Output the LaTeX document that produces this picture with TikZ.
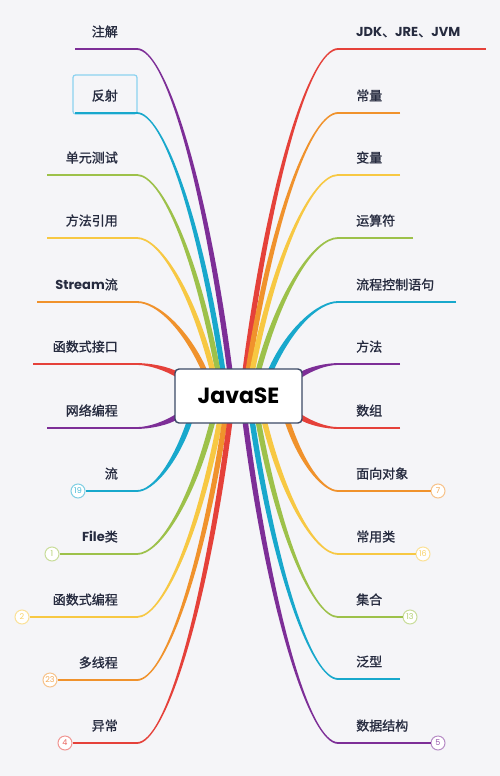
\documentclass[tikz,border=0pt]{standalone}
\usepackage{fontspec}
\setmainfont{Noto Sans CJK SC}[FakeBold=1.2]
\newfontfamily\latin{Poppins}
\usetikzlibrary{calc}

\definecolor{bgpaper}{RGB}{245,245,248}
\definecolor{inkdark}{RGB}{38,43,63}
\definecolor{hubedge}{RGB}{59,73,102}
\definecolor{pickblue}{RGB}{140,210,240}
\definecolor{brred}{RGB}{229,65,58}
\definecolor{brorange}{RGB}{240,146,44}
\definecolor{bryellow}{RGB}{247,200,67}
\definecolor{brgreen}{RGB}{157,193,74}
\definecolor{brcyan}{RGB}{24,168,204}
\definecolor{brpurple}{RGB}{125,46,151}

% tapered branch: thin at #2, thick at #3
\newcommand\limb[3]{%
  \fill[#1] let \p1=(#2), \p2=(#3),
    \p3=({\x1+0.3*(\x2-\x1)},\y1),
    \p4=({\x2-0.27*(\x2-\x1)},{\y2-0.6*(\y2-\y1)}),
    \n1={veclen(\x3-\x1,\y3-\y1)},
    \n2={veclen(\x2-\x4,\y2-\y4)},
    \p5=({-0.9*(\y3-\y1)/\n1},{0.9*(\x3-\x1)/\n1}),
    \p6=({-2.7*(\y2-\y4)/\n2},{2.7*(\x2-\x4)/\n2})
  in ({\x1+(\x5)},{\y1+(\y5)}) .. controls ({\x3+(\x5)},{\y3+(\y5)}) and ({\x4+(\x6)},{\y4+(\y6)}) .. ({\x2+(\x6)},{\y2+(\y6)})
  -- ({\x2-(\x6)},{\y2-(\y6)}) .. controls ({\x4-(\x6)},{\y4-(\y6)}) and ({\x3-(\x5)},{\y3-(\y5)}) .. ({\x1-(\x5)},{\y1-(\y5)}) -- cycle;}

\begin{document}
\begin{tikzpicture}[x=1pt,y=-1pt,
  topic/.style={inner sep=0pt, text=inkdark, font=\fontsize{13}{13}\selectfont},
  twig/.style={draw=#1, line width=1.8pt},
  badge/.style={circle, draw=#1!55, fill=white, text=#1!80, line width=1pt, inner sep=0pt, minimum size=14pt, font=\latin\fontsize{8}{8}\selectfont},
  hub/.style={draw=hubedge, fill=white, line width=1.4pt, rounded corners=4pt, minimum width=127pt, minimum height=54pt, text=black, font=\latin\bfseries\fontsize{22}{22}\selectfont},
  pick/.style={draw=pickblue, line width=1.2pt, rounded corners=2.5pt, minimum width=64pt, minimum height=39pt}]
\fill[bgpaper] (0,0) rectangle (500,776);
\useasboundingbox (0,0) rectangle (500,776);

% left side
\node[topic, anchor=base east] (lt1) at (118,36.5) {注解};
\coordinate (la1) at (75,49);
\coordinate (lb1) at (137,49);
\coordinate (lh1) at (230,372);
\draw[twig=brpurple] (la1) -- (lb1);
\limb{brpurple}{lb1}{lh1}
\node[pick] (sel) at (105,94.5) {};
\node[topic, anchor=base east] (lt2) at (118,100.5) {反射};
\coordinate (la2) at (75,113);
\coordinate (lb2) at (137,113);
\coordinate (lh2) at (223,372);
\draw[twig=brcyan] (la2) -- (lb2);
\limb{brcyan}{lb2}{lh2}
\node[topic, anchor=base east] (lt3) at (118,162.5) {单元测试};
\coordinate (la3) at (47,175);
\coordinate (lb3) at (137,175);
\coordinate (lh3) at (218,372);
\draw[twig=brgreen] (la3) -- (lb3);
\limb{brgreen}{lb3}{lh3}
\node[topic, anchor=base east] (lt4) at (118,225.5) {方法引用};
\coordinate (la4) at (47,238);
\coordinate (lb4) at (137,238);
\coordinate (lh4) at (213,372);
\draw[twig=bryellow] (la4) -- (lb4);
\limb{bryellow}{lb4}{lh4}
\node[topic, anchor=base east] (lt5) at (118,289.5) {{\latin\bfseries Stream}流};
\coordinate (la5) at (37,302);
\coordinate (lb5) at (137,302);
\coordinate (lh5) at (205,372);
\draw[twig=brorange] (la5) -- (lb5);
\limb{brorange}{lb5}{lh5}
\node[topic, anchor=base east] (lt6) at (118,351.5) {函数式接口};
\coordinate (la6) at (33,364);
\coordinate (lb6) at (137,364);
\coordinate (lh6) at (178,375);
\draw[twig=brred] (la6) -- (lb6);
\limb{brred}{lb6}{lh6}
\node[topic, anchor=base east] (lt7) at (118,415.5) {网络编程};
\coordinate (la7) at (47,428);
\coordinate (lb7) at (137,428);
\coordinate (lh7) at (178,416);
\draw[twig=brpurple] (la7) -- (lb7);
\limb{brpurple}{lb7}{lh7}
\node[topic, anchor=base east] (lt8) at (118,478.5) {流};
\node[badge=brcyan] (lc8) at (78,491) {19};
\coordinate (lb8) at (137,491);
\coordinate (lh8) at (190,420);
\draw[twig=brcyan] (lc8) -- (lb8);
\limb{brcyan}{lb8}{lh8}
\node[topic, anchor=base east] (lt9) at (118,541.5) {{\latin\bfseries File}类};
\node[badge=brgreen] (lc9) at (52,554) {1};
\coordinate (lb9) at (137,554);
\coordinate (lh9) at (213,420);
\draw[twig=brgreen] (lc9) -- (lb9);
\limb{brgreen}{lb9}{lh9}
\node[topic, anchor=base east] (lt10) at (118,604.5) {函数式编程};
\node[badge=bryellow] (lc10) at (22,617) {2};
\coordinate (lb10) at (137,617);
\coordinate (lh10) at (220,420);
\draw[twig=bryellow] (lc10) -- (lb10);
\limb{bryellow}{lb10}{lh10}
\node[topic, anchor=base east] (lt11) at (118,667.5) {多线程};
\node[badge=brorange] (lc11) at (50,680) {23};
\coordinate (lb11) at (137,680);
\coordinate (lh11) at (225,420);
\draw[twig=brorange] (lc11) -- (lb11);
\limb{brorange}{lb11}{lh11}
\node[topic, anchor=base east] (lt12) at (118,730.5) {异常};
\node[badge=brred] (lc12) at (65,743) {4};
\coordinate (lb12) at (137,743);
\coordinate (lh12) at (230,420);
\draw[twig=brred] (lc12) -- (lb12);
\limb{brred}{lb12}{lh12}

% right side
\node[topic, anchor=base west] (rt1) at (356,36.5) {{\latin\bfseries JDK}、{\latin\bfseries JRE}、{\latin\bfseries JVM}};
\coordinate (ra1) at (486,49);
\coordinate (rb1) at (338,49);
\coordinate (rh1) at (245,372);
\draw[twig=brred] (ra1) -- (rb1);
\limb{brred}{rb1}{rh1}
\node[topic, anchor=base west] (rt2) at (356,100.5) {常量};
\coordinate (ra2) at (400,113);
\coordinate (rb2) at (338,113);
\coordinate (rh2) at (248,372);
\draw[twig=brorange] (ra2) -- (rb2);
\limb{brorange}{rb2}{rh2}
\node[topic, anchor=base west] (rt3) at (356,162.5) {变量};
\coordinate (ra3) at (400,175);
\coordinate (rb3) at (338,175);
\coordinate (rh3) at (252,372);
\draw[twig=bryellow] (ra3) -- (rb3);
\limb{bryellow}{rb3}{rh3}
\node[topic, anchor=base west] (rt4) at (356,225.5) {运算符};
\coordinate (ra4) at (413,238);
\coordinate (rb4) at (338,238);
\coordinate (rh4) at (258,372);
\draw[twig=brgreen] (ra4) -- (rb4);
\limb{brgreen}{rb4}{rh4}
\node[topic, anchor=base west] (rt5) at (356,289.5) {流程控制语句};
\coordinate (ra5) at (456,302);
\coordinate (rb5) at (338,302);
\coordinate (rh5) at (270,372);
\draw[twig=brcyan] (ra5) -- (rb5);
\limb{brcyan}{rb5}{rh5}
\node[topic, anchor=base west] (rt6) at (356,351.5) {方法};
\coordinate (ra6) at (400,364);
\coordinate (rb6) at (338,364);
\coordinate (rh6) at (299,376);
\draw[twig=brpurple] (ra6) -- (rb6);
\limb{brpurple}{rb6}{rh6}
\node[topic, anchor=base west] (rt7) at (356,415.5) {数组};
\coordinate (ra7) at (400,428);
\coordinate (rb7) at (338,428);
\coordinate (rh7) at (299,416);
\draw[twig=brred] (ra7) -- (rb7);
\limb{brred}{rb7}{rh7}
\node[topic, anchor=base west] (rt8) at (356,478.5) {面向对象};
\node[badge=brorange] (rc8) at (438,491) {7};
\coordinate (rb8) at (338,491);
\coordinate (rh8) at (287,420);
\draw[twig=brorange] (rc8) -- (rb8);
\limb{brorange}{rb8}{rh8}
\node[topic, anchor=base west] (rt9) at (356,541.5) {常用类};
\node[badge=bryellow] (rc9) at (423,554) {16};
\coordinate (rb9) at (338,554);
\coordinate (rh9) at (264,420);
\draw[twig=bryellow] (rc9) -- (rb9);
\limb{bryellow}{rb9}{rh9}
\node[topic, anchor=base west] (rt10) at (356,604.5) {集合};
\node[badge=brgreen] (rc10) at (410,617) {13};
\coordinate (rb10) at (338,617);
\coordinate (rh10) at (258,420);
\draw[twig=brgreen] (rc10) -- (rb10);
\limb{brgreen}{rb10}{rh10}
\node[topic, anchor=base west] (rt11) at (356,666.5) {泛型};
\coordinate (ra11) at (400,679);
\coordinate (rb11) at (338,679);
\coordinate (rh11) at (252,420);
\draw[twig=brcyan] (ra11) -- (rb11);
\limb{brcyan}{rb11}{rh11}
\node[topic, anchor=base west] (rt12) at (356,730.5) {数据结构};
\node[badge=brpurple] (rc12) at (438,743) {5};
\coordinate (rb12) at (338,743);
\coordinate (rh12) at (245,420);
\draw[twig=brpurple] (rc12) -- (rb12);
\limb{brpurple}{rb12}{rh12}

% centre
\node[hub] (javase) at (238.5,396) {JavaSE};
\end{tikzpicture}
\end{document}
